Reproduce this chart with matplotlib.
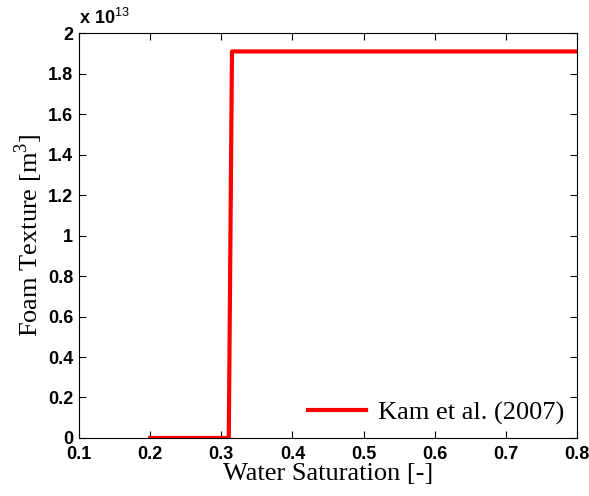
import numpy as np
import matplotlib.pyplot as plt
from matplotlib.ticker import FuncFormatter

# Foam texture vs water saturation (Kam et al. 2007)
sw = [0.2, 0.3105, 0.315, 0.8]
nf = [0.0, 0.0, 1.91e13, 1.91e13]

xticks = [0.1, 0.2, 0.3, 0.4, 0.5, 0.6, 0.7, 0.8]
yticks = np.arange(0, 2.01, 0.2) * 1e13

plt.rcParams['mathtext.fontset'] = 'custom'
plt.rcParams['mathtext.rm'] = 'Liberation Serif'
plt.rcParams['mathtext.sf'] = 'Liberation Sans'

f = plt.figure(figsize=(5.89, 4.96), dpi=100)
ax = f.add_axes([0.134, 0.117, 0.846, 0.816])

ax.plot(sw, nf, color='red', linewidth=3, label='Kam et al. (2007)')

ax.set_xlim(0.1, 0.8)
ax.set_ylim(0, 2e13)
ax.set_xticks(xticks)
ax.set_yticks(yticks)
ax.xaxis.set_major_formatter(FuncFormatter(lambda v, p: ('%g' % round(v, 2))))
ax.yaxis.set_major_formatter(FuncFormatter(lambda v, p: ('%g' % round(v / 1e13, 2))))
ax.tick_params(direction='in', length=5, width=0.8, top=True, right=True,
               labelsize=13)
ax.tick_params(axis='x', pad=6)
ax.tick_params(axis='y', pad=4)
for lab in ax.get_xticklabels() + ax.get_yticklabels():
    lab.set_fontweight('bold')
    lab.set_family('Liberation Sans')

ax.text(0.0, 1.012, r'x 10$^{\mathsf{13}}$', transform=ax.transAxes, fontsize=13,
        fontweight='bold', family='Liberation Sans', ha='left', va='bottom')

ax.set_xlabel('Water Saturation [-]', family='Liberation Serif', fontsize=19, labelpad=0)
ax.set_ylabel(r'Foam Texture [m$^{\mathrm{3}}$]', family='Liberation Serif', fontsize=19,
              labelpad=2)

ax.legend(loc='lower right', frameon=False, prop={'family': 'Liberation Serif', 'size': 19},
          handlelength=2.2, handletextpad=0.45, borderaxespad=0.1)

f.savefig('out.png', dpi=100)
